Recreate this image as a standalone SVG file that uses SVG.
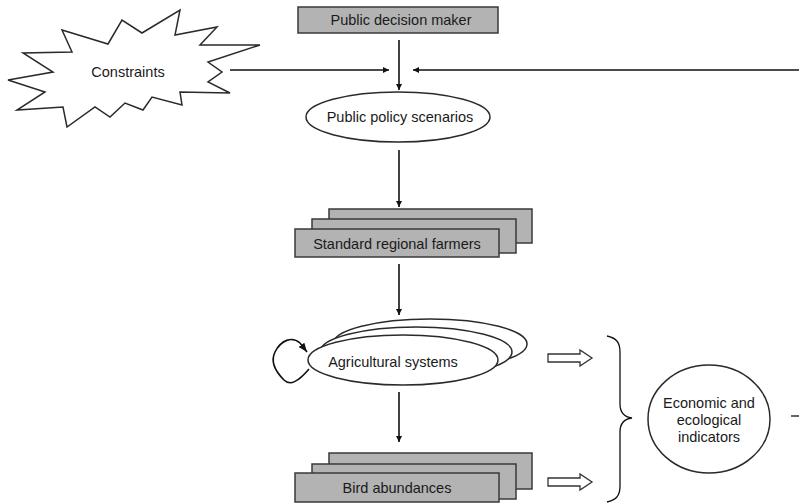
<svg xmlns="http://www.w3.org/2000/svg" width="799" height="504" viewBox="0 0 799 504">
<style>
.box{fill:#b3b3b3;stroke:#3a3a3a;stroke-width:1.5}
.ell{fill:#fff;stroke:#2a2a2a;stroke-width:1.5}
.t{font-family:"Liberation Sans",Arial,sans-serif;font-size:14.5px;fill:#1a1a1a;text-anchor:middle;dominant-baseline:central}
.c{fill:none;stroke:#111;stroke-width:1.6}
.h{fill:#fff;stroke:#333;stroke-width:1.3}
</style>
<defs>
<marker id="ah" viewBox="0 0 10 10" refX="10" refY="5" markerWidth="6" markerHeight="6" markerUnits="userSpaceOnUse" orient="auto"><path d="M0,0 L10,5 L0,10 z" fill="#111"/></marker>
<marker id="ah2" viewBox="0 0 10 10" refX="10" refY="5" markerWidth="9" markerHeight="9" markerUnits="userSpaceOnUse" orient="auto"><path d="M0,1 L10,5 L0,9 z" fill="#111"/></marker>
</defs>
<g id="constraints">
<polygon class="ell" points="8,80 53,72 23,53 72,52 62,30 108,44 122,20 142,33 180,10 175,35 217,27 200,45 260,45 208,62 222,72 208,82 230,93 180,92 182,105 152,97 143,110 125,103 110,117 95,107 67,127 63,107 17,110 45,92"/>
<text class="t" x="128" y="72">Constraints</text>
</g>
<g id="decision-maker">
<rect class="box" x="298" y="7" width="200" height="26"/>
<text class="t" x="401" y="20">Public decision maker</text>
</g>
<g id="policy-scenarios">
<ellipse class="ell" cx="398" cy="117" rx="92" ry="25"/>
<text class="t" x="400" y="117">Public policy scenarios</text>
</g>
<g id="farmers">
<rect class="box" x="329" y="209" width="203" height="34"/>
<rect class="box" x="312" y="219" width="204" height="34"/>
<rect class="box" x="295" y="229" width="204" height="28"/>
<text class="t" x="397" y="244">Standard regional farmers</text>
</g>
<g id="agri-systems">
<ellipse class="ell" cx="430" cy="344" rx="97" ry="25"/>
<ellipse class="ell" cx="416" cy="352" rx="96" ry="25"/>
<ellipse class="ell" cx="403" cy="360" rx="95" ry="25"/>
<text class="t" x="393" y="362">Agricultural systems</text>
</g>
<g id="birds">
<rect class="box" x="329" y="453" width="203" height="36"/>
<rect class="box" x="312" y="464" width="204" height="35"/>
<rect class="box" x="295" y="473" width="204" height="29"/>
<text class="t" x="397" y="488">Bird abundances</text>
</g>
<g id="indicators">
<ellipse class="ell" cx="709" cy="419" rx="61" ry="54"/>
<text class="t" x="709" y="403">Economic and</text>
<text class="t" x="709" y="420">ecological</text>
<text class="t" x="709" y="437">indicators</text>
</g>
<g id="connectors">
<line class="c" x1="399" y1="40" x2="399" y2="90" marker-end="url(#ah)"/>
<line class="c" x1="230" y1="70" x2="389" y2="70" marker-end="url(#ah)"/>
<line class="c" x1="799" y1="70" x2="413" y2="70" marker-end="url(#ah)"/>
<line class="c" x1="399" y1="150" x2="399" y2="207" marker-end="url(#ah)"/>
<line class="c" x1="399" y1="264" x2="399" y2="315" marker-end="url(#ah)"/>
<line class="c" x1="399" y1="392" x2="399" y2="442" marker-end="url(#ah)"/>
<path class="c" d="M309,369 C298,382 290,386 284,380 C276,372 270,362 275,352 C281,340 292,336 300,343 L307,352" marker-end="url(#ah2)"/>
<path class="h" d="M548,354 L580,354 L580,350 L592,358 L580,366 L580,362 L548,362 Z"/>
<path class="h" d="M548,478 L580,478 L580,474 L592,482 L580,490 L580,486 L548,486 Z"/>
<path class="c" style="stroke-width:1.3" d="M607,336 C616,338 620,342 620,352 L620,404 C620,412 624,417 632,418 C624,419 620,424 620,432 L620,486 C620,496 616,500 607,502"/>
<line class="c" style="stroke-width:1.3" x1="791" y1="416" x2="799" y2="416"/>
</g>
</svg>
